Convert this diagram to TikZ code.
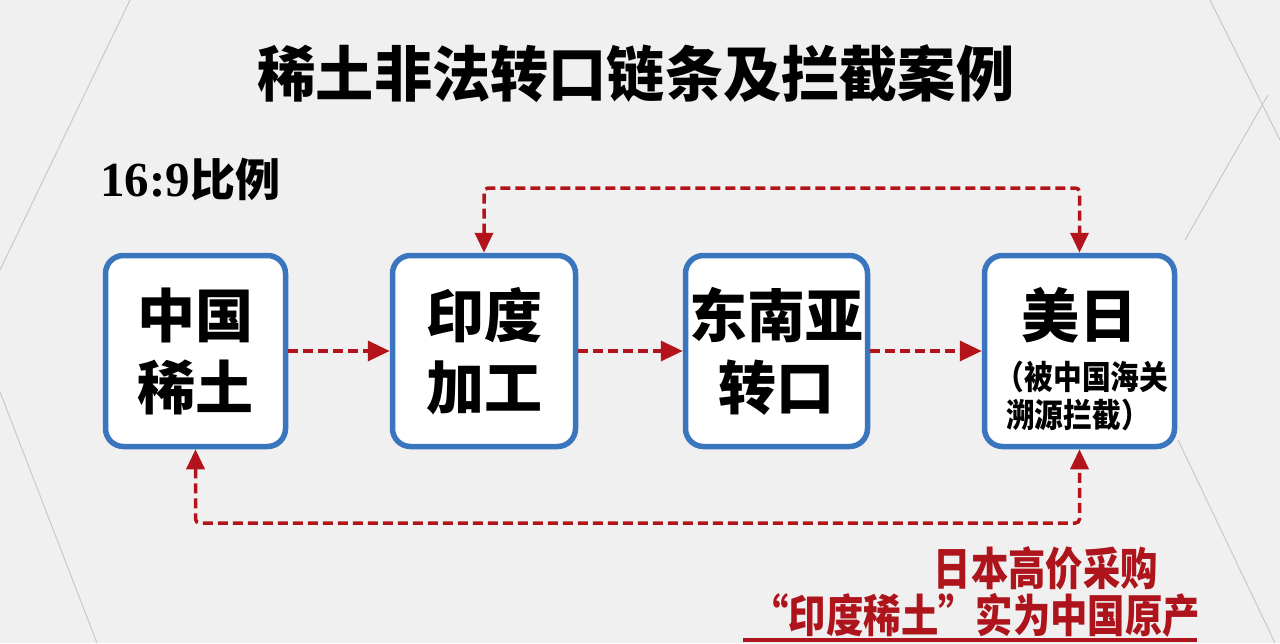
\documentclass[tikz,border=0pt]{standalone}
\usepackage{fontspec}
\setmainfont{Noto Sans CJK SC}
\newfontfamily\serifdig{Liberation Serif}
\usetikzlibrary{arrows.meta}
\definecolor{bg}{HTML}{F0F0F0}
\definecolor{boxblue}{HTML}{3A76BE}
\definecolor{arrred}{HTML}{B3141C}
\definecolor{txtred}{HTML}{AE141B}
\definecolor{faint}{HTML}{C9C9C9}
\tikzset{
  flowbox/.style={draw=boxblue, line width=5.5pt, fill=white, rounded corners=18pt,
    minimum height=191pt, inner sep=0pt, align=center,
    font=\fontsize{58}{72}\selectfont\bfseries},
  conn/.style={draw=arrred, line width=3.5pt, dash pattern=on 10pt off 5pt},
  tip/.style={-{Triangle[length=22pt,width=20pt]}},
  bothtips/.style={{Triangle[length=20pt,width=18pt]}-{Triangle[length=20pt,width=18pt]}},
  bgline/.style={draw=faint, line width=1pt},
  subtext/.style={font=\fontsize{33}{33}\selectfont\bfseries, inner sep=0pt}
}
\begin{document}
\begin{tikzpicture}[x=1pt,y=-1pt]
\useasboundingbox (0,0) rectangle (1280,643);
\fill[bg] (0,0) rectangle (1280,643);
% faint background lines
\draw[bgline] (130,0) -- (0,270);
\draw[bgline] (0,392) -- (97,643);
\draw[bgline] (1210,0) -- (1280,140);
\draw[bgline] (1268,95) -- (1185,240);
\draw[bgline] (1178,440) -- (1275,643);
\draw[bgline] (1140,375) -- (1105,440);

% title
\node (title) at (636,74) {\fontsize{60}{60}\selectfont\bfseries\scalebox{0.97}[1]{稀土非法转口链条及拦截案例}};
\node[anchor=west, inner sep=0pt] (ratio) at (100,180) {\bfseries{\fontsize{49}{49}\selectfont\serifdig 16:9}{\fontsize{45}{45}\selectfont 比例}};

% boxes
\node[flowbox, minimum width=180pt] (b1) at (195.5,351) {中国\\稀土};
\node[flowbox, minimum width=183pt] (b2) at (484,351) {印度\\加工};
\node[flowbox, minimum width=182pt] (b3) at (776.5,351) {东南亚\\转口};
\node[flowbox, minimum width=190pt] (b4) at (1079.5,351) {};
\node[font=\fontsize{58}{58}\selectfont\bfseries, inner sep=0pt] (b4a) at (1079.5,315) {美日};
\node[subtext] (b4b) at (1082,377) {\scalebox{0.87}[1]{（被中国海关}};
\node[subtext] (b4c) at (1078,415) {\scalebox{0.87}[1]{溯源拦截）}};

% horizontal connectors
\draw[conn, tip] (b1.east) -- (b2.west);
\draw[conn, tip] (b2.east) -- (b3.west);
\draw[conn, tip] (b3.east) -- (b4.west);

% top and bottom loops
\coordinate (topy) at (0,188);
\coordinate (boty) at (0,523);
\draw[conn, bothtips, rounded corners=4pt] (b2.north) -- (b2.north |- topy) -| (b4.north);
\draw[conn, bothtips, rounded corners=4pt] (b1.south) -- (b1.south |- boty) -| (b4.south);

% bottom red note
\node[anchor=east, text=txtred, inner sep=0pt] (note1) at (1158,568) {\fontsize{45}{45}\selectfont\bfseries\scalebox{0.83}[1]{日本高价采购}};
\node[anchor=east, text=txtred, inner sep=0pt] (note2) at (1200,615) {\fontsize{45}{45}\selectfont\bfseries\scalebox{0.83}[1]{“印度稀土”实为中国原产}};
\coordinate (ulA) at (743,640);
\coordinate (ulB) at (1197,640);
\draw[draw=txtred, line width=4pt] (ulA) -- (ulB);
\end{tikzpicture}
\end{document}
